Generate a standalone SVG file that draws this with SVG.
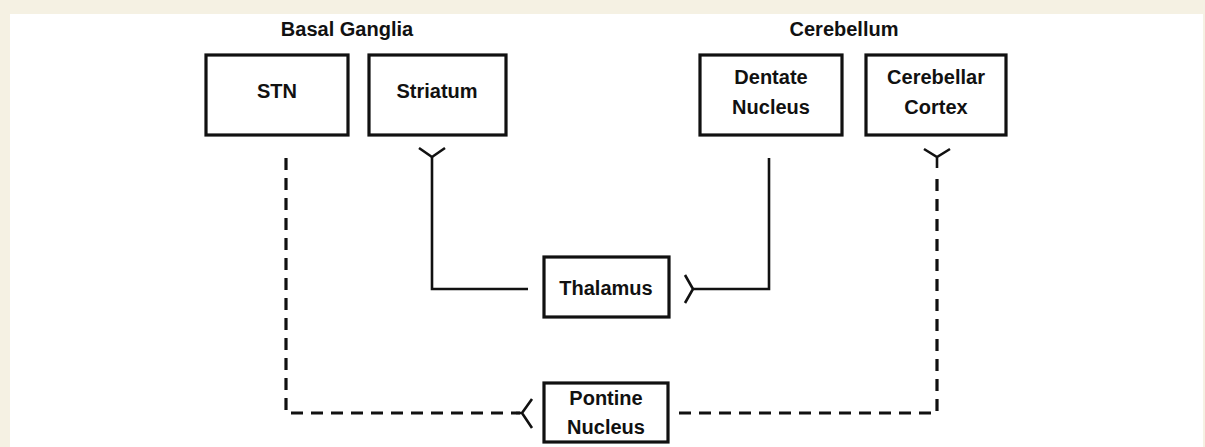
<svg xmlns="http://www.w3.org/2000/svg" width="1205" height="447" viewBox="0 0 1205 447">
<style>
.box{fill:#fff;stroke:#111;stroke-width:3.2}
.lbl{font-family:"Liberation Sans",Arial,sans-serif;font-weight:bold;font-size:20px;fill:#111;text-anchor:middle}
.ttl{font-family:"Liberation Sans",Arial,sans-serif;font-weight:bold;font-size:20px;fill:#111;text-anchor:middle}
.solid{fill:none;stroke:#111;stroke-width:2.6}
.dash{fill:none;stroke:#111;stroke-width:3.2;stroke-dasharray:12 8}
</style>
<rect x="0" y="0" width="1205" height="447" fill="#f5f1e3"/>
<rect x="10" y="14" width="1193" height="433" fill="#fff"/>
<text class="ttl" x="347" y="36">Basal Ganglia</text>
<text class="ttl" x="844" y="36">Cerebellum</text>
<g id="connectors">
<path class="solid" d="M432 157 V289 H528"/>
<path class="solid" d="M419 148 L432 157 L445 148"/>
<path class="solid" d="M769 158 V289 H693"/>
<path class="solid" d="M685 275 L693 289 L685 303"/>
<path class="dash" d="M286 158 V413 H520"/>
<path class="solid" d="M532 399 L522 413 L532 428 M522 413 H516"/>
<path class="dash" d="M937 179 V413 H678"/>
<path class="solid" d="M924 149 L937 157 L950 149 M937 157 V168"/>
</g>
<g id="stn"><rect class="box" x="206" y="55" width="142" height="80"/><text class="lbl" x="277" y="98">STN</text></g>
<g id="striatum"><rect class="box" x="369" y="55" width="137" height="80"/><text class="lbl" x="437" y="98">Striatum</text></g>
<g id="dentate"><rect class="box" x="700" y="55" width="142" height="80"/><text class="lbl" x="771" y="84">Dentate</text><text class="lbl" x="771" y="114">Nucleus</text></g>
<g id="cerebellar-cortex"><rect class="box" x="866" y="55" width="140" height="80"/><text class="lbl" x="936" y="84">Cerebellar</text><text class="lbl" x="936" y="114">Cortex</text></g>
<g id="thalamus"><rect class="box" x="544" y="257" width="125" height="60"/><text class="lbl" x="606" y="295">Thalamus</text></g>
<g id="pontine"><rect class="box" x="544" y="383" width="124" height="59"/><text class="lbl" x="606" y="405">Pontine</text><text class="lbl" x="606" y="434">Nucleus</text></g>
</svg>
